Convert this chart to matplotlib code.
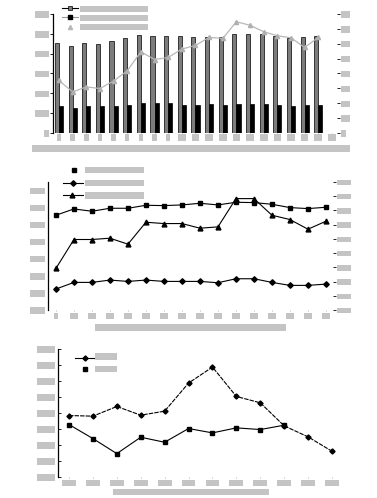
import numpy as np
import matplotlib
matplotlib.use("Agg")
import matplotlib.pyplot as plt
from matplotlib.lines import Line2D

W, H = 377, 498
GRAY = "#c4c4c4"

# panel 1 data (bars on left axis, line on right axis)
p1_labels = [str(i) for i in range(1, 22)]
p1_gray = [4527, 4392, 4527, 4493, 4628, 4780, 4932, 4899, 4899, 4899,
           4865, 4865, 4865, 4983, 4983, 4983, 4899, 4780, 4831, 4899]
p1_black = [1351, 1284, 1351, 1351, 1385, 1419, 1503, 1503, 1503, 1419,
            1419, 1453, 1419, 1453, 1453, 1453, 1419, 1385, 1419, 1419]
p1_line = [35.3, 27.6, 31.0, 29.9, 35.0, 41.8, 54.6, 49.4, 50.8, 56.4,
           58.9, 64.3, 63.6, 74.8, 72.4, 68.1, 65.4, 64.0, 57.5, 64.3]

# panel 2 data
p2_labels = ["1"] + ["%02d" % i for i in range(2, 17)]
p2_square = [5545, 5914, 5778, 5953, 5953, 6128, 6109, 6148, 6245, 6148,
             6304, 6284, 6187, 5992, 5934, 6012]
p2_diamond = [1226, 1615, 1615, 1751, 1673, 1751, 1673, 1673, 1673, 1595,
              1829, 1829, 1615, 1440, 1440, 1517]
p2_triangle = [2432, 4125, 4125, 4202, 3852, 5136, 5058, 5058, 4786, 4864,
               6518, 6518, 5545, 5292, 4728, 5195]

# panel 3 data
p3_labels = [str(2000 + i) for i in range(12)]
p3_diamond = [3843, 3802, 4407, 3864, 4115, 5869, 6872, 5034, 4637, 3196, 2507, 1608]
p3_square = [3279, 2402, 1462, 2486, 2172, 3029, 2757, 3070, 2966, 3238]

fig = plt.figure(figsize=(W / 100, H / 100), dpi=100)
fig.patch.set_facecolor("white")


def axes_px(x0, y0, x1, y1):
    return fig.add_axes([x0 / W, 1 - y1 / H, (x1 - x0) / W, (y1 - y0) / H])


def boxify(labels, fs):
    for t in labels:
        t.set_fontsize(fs)
        t.set_color(GRAY)
        t.set_bbox(dict(facecolor=GRAY, edgecolor="none", pad=0.5))


def gray_block(x0, x1, y0, y1):
    pad = 0.5
    k = 100 / 72
    fs = (y1 - y0 - 2 * pad * k) / (1.164 * k)
    n = max(1, int(round((x1 - x0 - 2 * pad * k) / (0.602 * fs * k))))
    fig.text((x0 + x1) / 2 / W, 1 - (y0 + y1) / 2 / H, "0" * n,
             family="DejaVu Sans Mono", fontsize=fs, color=GRAY,
             ha="center", va="center",
             bbox=dict(facecolor=GRAY, edgecolor="none", pad=pad))


def leg_line(x0, x1, y, **kw):
    fig.add_artist(Line2D([x0 / W, x1 / W], [1 - y / H, 1 - y / H],
                          transform=fig.transFigure, **kw))


def leg_mark(x, y, **kw):
    fig.add_artist(Line2D([x / W], [1 - y / H], transform=fig.transFigure,
                          linestyle="none", **kw))


def clean(ax, right=False):
    for s in ["top", "right", "bottom"]:
        ax.spines[s].set_visible(False)
    ax.spines["left"].set_linewidth(0.9)
    if right:
        ax.spines["left"].set_visible(False)


# ---------------- panel 1 ----------------
ax1 = axes_px(53, 14, 337, 133)
x1 = np.arange(len(p1_gray))
ax1.bar(x1 - 0.15, p1_gray, width=0.3, color="#7c7c7c", edgecolor="black", linewidth=0.5)
ax1.bar(x1 + 0.15, p1_black, width=0.3, color="black", edgecolor="black", linewidth=0.5)
ax1.set_xlim(-0.44, 20.37)
ax1.set_ylim(0, 6000)
ax1.set_yticks(range(0, 6001, 1000))
ax1.set_yticklabels([str(v) for v in range(0, 6001, 1000)])
ax1.set_xticks(range(21))
ax1.set_xticklabels(p1_labels)
ax1.tick_params(axis="y", length=2, width=0.6, pad=1.5)
ax1.tick_params(axis="x", length=1, width=0.5, color="#999999", pad=0.5)
boxify(ax1.get_yticklabels(), 3.5)
boxify(ax1.get_xticklabels(), 3.5)
clean(ax1)

ax1r = ax1.twinx()
ax1r.plot(x1, p1_line, color="#b8b8b8", linewidth=0.9, marker="^", markersize=3,
          markerfacecolor="#b0b0b0", markeredgecolor="#b0b0b0")
ax1r.set_ylim(0, 80)
ax1r.set_yticks(range(0, 81, 10))
ax1r.set_yticklabels([str(v) for v in range(0, 81, 10)])
ax1r.tick_params(axis="y", length=2, width=0.6, pad=1.5)
boxify(ax1r.get_yticklabels(), 4)
for s in ax1r.spines.values():
    s.set_visible(False)

leg_line(62, 78, 8.3, color="black", linewidth=0.8)
leg_mark(70, 8.3, marker="s", markersize=3, markerfacecolor="#7c7c7c", markeredgecolor="black", markeredgewidth=0.5)
leg_line(62, 78, 17.5, color="#999999", linewidth=0.8)
leg_mark(70, 17.5, marker="s", markersize=3, color="black")
leg_mark(70, 27, marker="^", markersize=3, color="#b8b8b8")
gray_block(80, 148, 6, 12)
gray_block(80, 148, 15, 21)
gray_block(80, 148, 24, 30)
gray_block(30, 352, 145, 152)

# ---------------- panel 2 ----------------
ax2 = axes_px(48, 182, 333, 310)
x2 = np.arange(len(p2_square))
ax2.plot(x2, p2_square, color="black", linewidth=0.8, marker="s", markersize=3)
ax2.plot(x2, p2_diamond, color="black", linewidth=0.8, marker="D", markersize=2.8)
ax2.plot(x2, p2_triangle, color="black", linewidth=0.8, marker="^", markersize=3.5)
ax2.set_xlim(-0.44, 15.39)
ax2.set_ylim(0, 7490)
ax2.set_yticks(range(0, 7001, 1000))
ax2.set_yticklabels(["%d 000" % v for v in range(0, 8)])
ax2.set_xticks(x2)
ax2.set_xticklabels(p2_labels)
ax2.tick_params(axis="y", length=0, pad=3)
ax2.tick_params(axis="x", length=1, width=0.5, color="#999999", pad=1.5)
boxify(ax2.get_yticklabels(), 3.3)
boxify(ax2.get_xticklabels(), 3.5)
clean(ax2)

ax2r = ax2.twinx()
ax2r.set_ylim(0, 9)
ax2r.set_yticks(range(10))
ax2r.set_yticklabels(["%d 000" % v for v in range(10)])
ax2r.tick_params(axis="y", length=2, width=0.6, pad=1.5)
boxify(ax2r.get_yticklabels(), 3.2)
for s in ax2r.spines.values():
    s.set_visible(False)

leg_mark(74, 170, marker="s", markersize=3, color="black")
leg_line(63, 83, 183, color="black", linewidth=0.8)
leg_mark(73, 183, marker="D", markersize=2.8, color="black")
leg_line(63, 83, 195.5, color="black", linewidth=0.8)
leg_mark(72, 195.5, marker="^", markersize=3.5, color="black")
gray_block(85, 144, 167, 173)
gray_block(85, 144, 180, 186)
gray_block(85, 144, 192, 199)
gray_block(94, 287, 324, 331)

# ---------------- panel 3 ----------------
ax3 = axes_px(58, 349, 343, 477)
x3 = np.arange(len(p3_diamond))
ax3.plot(x3, p3_diamond, color="black", linewidth=0.8, linestyle=(0, (4, 1)),
         marker="D", markersize=2.6)
ax3.plot(np.arange(len(p3_square)), p3_square, color="black", linewidth=0.8,
         marker="s", markersize=3)
ax3.set_xlim(-0.46, 11.46)
ax3.set_ylim(0, 8000)
ax3.set_yticks(range(0, 8001, 1000))
ax3.set_yticklabels(["%d 000" % v for v in range(0, 9)])
ax3.set_xticks(x3)
ax3.set_xticklabels(p3_labels)
ax3.tick_params(axis="y", direction="in", length=2, width=0.6, pad=3)
ax3.tick_params(axis="x", length=1, width=0.5, color="#999999", pad=1.5)
boxify(ax3.get_yticklabels(), 4)
boxify(ax3.get_xticklabels(), 3.5)
clean(ax3)

leg_line(75, 95, 357.7, color="black", linewidth=0.8)
leg_mark(85, 357.7, marker="D", markersize=2.6, color="black")
leg_mark(85, 369.3, marker="s", markersize=3, color="black")
gray_block(95, 117, 353, 360)
gray_block(95, 117, 366, 372)
gray_block(112, 270, 488, 496)

fig.savefig("out.png", dpi=100, facecolor="white")
